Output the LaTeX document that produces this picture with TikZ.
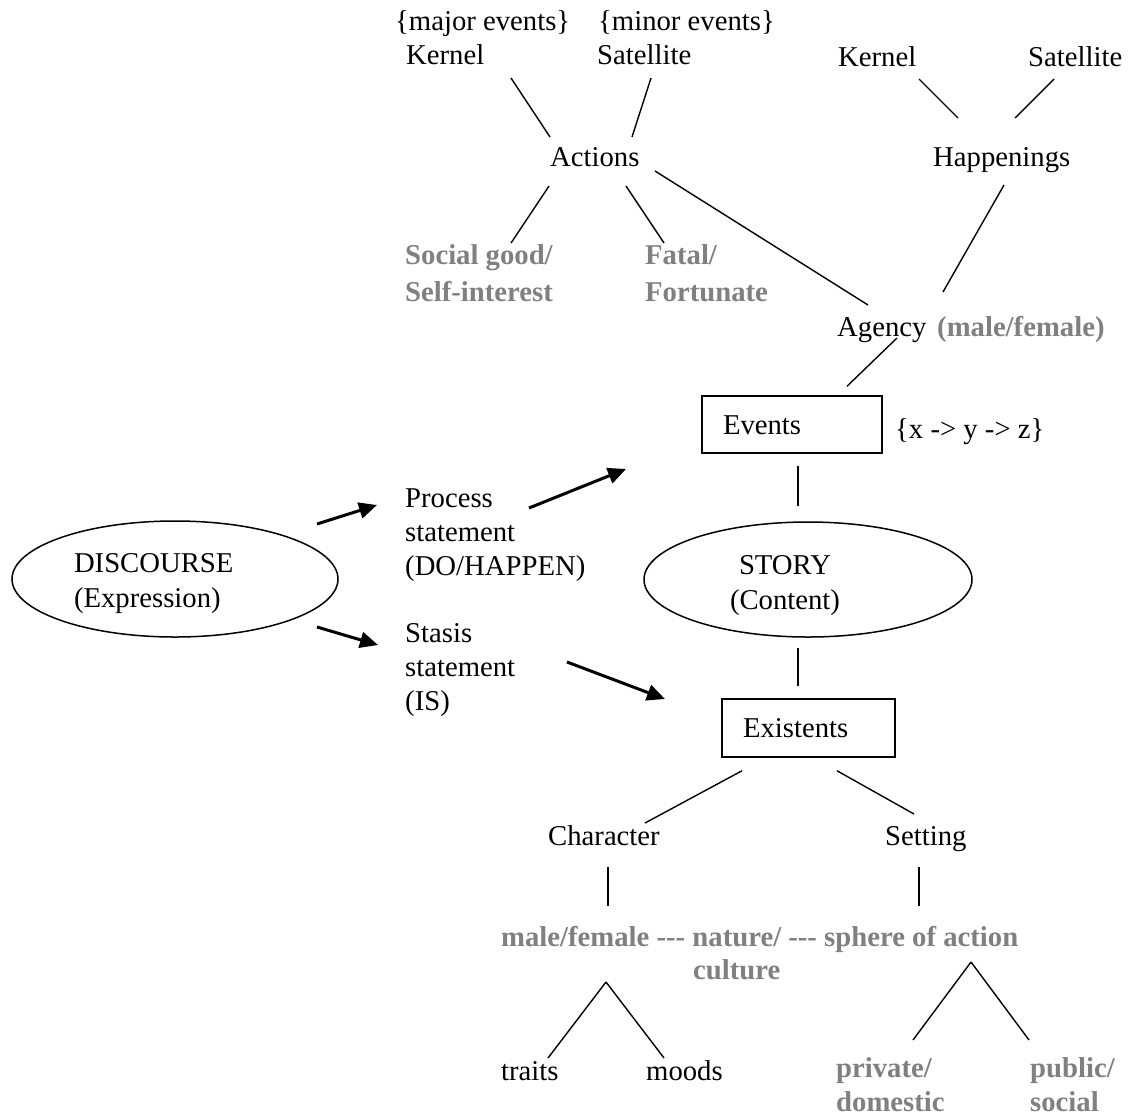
\documentclass[tikz,border=0pt]{standalone}
\usepackage{fontspec}
\setmainfont{Liberation Serif}
\usetikzlibrary{arrows.meta,shapes.geometric}
\definecolor{txtgray}{RGB}{128,128,128}
\begin{document}
\begin{tikzpicture}[x=1pt,y=-1pt,
  lbl/.style={inner sep=0pt, anchor=base west, align=left, font=\fontsize{28.7}{34}\selectfont},
  glbl/.style={lbl, text=txtgray, font=\fontsize{28.7}{37}\selectfont\bfseries},
  conn/.style={line width=1.4pt},
  arr/.style={line width=3pt, -{Triangle[length=18pt,width=16pt]}},
  boxn/.style={draw, line width=1.5pt, rectangle, inner ysep=0pt, inner xsep=21pt,
    align=left, text height=19pt, text depth=0pt, font=\fontsize{28.7}{34}\selectfont},
  elln/.style={draw, ellipse, line width=1.5pt, inner sep=0pt,
    font=\fontsize{28.7}{35}\selectfont}
]
\useasboundingbox (0,0) rectangle (1129,1117);

% top level
\node[lbl] (majorev) at (395,30) {\{major events\}};
\node[lbl] (kernel1) at (406,64) {Kernel};
\node[lbl] (minorev) at (598,30) {\{minor events\}};
\node[lbl] (sat1) at (597,64) {Satellite};
\node[lbl] (kernel2) at (838,66) {Kernel};
\node[lbl] (sat2) at (1028,66) {Satellite};
\node[lbl] (actions) at (550,166) {Actions};
\node[lbl] (happ) at (933,166) {Happenings};
\node[glbl] (social) at (405,301) {Social good/\\Self-interest};
\node[glbl] (fatal) at (645,301) {Fatal/\\Fortunate};
\node[lbl] (agency) at (837,336) {Agency};
\node[glbl] (agencyg) at (937,336) {(male/female)};

% events
\node[boxn, text width=138pt, minimum width=180pt, minimum height=57pt] (events) at (792,424.5) {Events};
\node[lbl] (xyz) at (895,438) {\{x -> y -> z\}};

% discourse side
\node[elln, align=left, text width=202pt, text height=21pt, text depth=35pt,
  minimum width=326pt, minimum height=116pt] (discourse) at (175,579) {DISCOURSE\\(Expression)};
\node[lbl] (process) at (405,575) {Process\\statement\\(DO/HAPPEN)};
\node[lbl] (stasis) at (405,710) {Stasis\\statement\\(IS)};

% story
\node[elln, align=center, text height=59pt, text depth=0pt,
  minimum width=328pt, minimum height=115pt] (story) at (808,579.5)
  {STORY\rule{46pt}{0pt}\\(Content)\rule{46pt}{0pt}};

% existents
\node[boxn, text width=131pt, minimum width=173pt, minimum height=58pt] (existents) at (808.5,728) {Existents};
\node[lbl] (character) at (548,845) {Character};
\node[lbl] (setting) at (885,845) {Setting};
\node[glbl, font=\fontsize{28.7}{33}\selectfont\bfseries] (gline) at (501,979)
  {male/female -{}-{}- nature/ -{}-{}- sphere of action\\\hspace*{192pt}culture};
\node[lbl] (traits) at (501,1080) {traits};
\node[lbl] (moods) at (646,1080) {moods};
\node[glbl, font=\fontsize{28.7}{34}\selectfont\bfseries] (private) at (836,1111) {private/\\domestic};
\node[glbl, font=\fontsize{28.7}{34}\selectfont\bfseries] (public) at (1030,1111) {public/\\social};

% connectors
\draw[conn] ([shift={(105,14)}]kernel1.base west) -- ([shift={(0,-29)}]actions.base west);
\draw[conn] ([shift={(54,14)}]sat1.base west) -- ([shift={(82,-29)}]actions.base west);
\draw[conn] ([shift={(81,13)}]kernel2.base west) -- ([shift={(25,-48)}]happ.base west);
\draw[conn] ([shift={(26,13)}]sat2.base west) -- ([shift={(82,-48)}]happ.base west);
\draw[conn] ([shift={(-1,20)}]actions.base west) -- ([shift={(106,-58)}]social.base west);
\draw[conn] ([shift={(76,20)}]actions.base west) -- ([shift={(19,-58)}]fatal.base west);
\draw[conn] ([shift={(105,5)}]actions.base west) -- ([shift={(31,-31)}]agency.base west);
\draw[conn] ([shift={(71,19)}]happ.base west) -- ([shift={(106,-44)}]agency.base west);
\draw[conn] ([shift={(60,2)}]agency.base west) -- ([shift={(55,-9)}]events.north);
\draw[conn] ([shift={(6,12)}]events.south) -- ([shift={(-10,-15)}]story.north);
\draw[conn] ([shift={(-10,10)}]story.south) -- ([shift={(-10.5,-12)}]existents.north);
\draw[conn] ([shift={(-66.5,13)}]existents.south) -- ([shift={(97,-22)}]character.base west);
\draw[conn] ([shift={(28.5,13)}]existents.south) -- ([shift={(29,-31)}]setting.base west);
\draw[conn] ([shift={(60,22)}]character.base west) -- ([shift={(107,-73)}]gline.base west);
\draw[conn] ([shift={(34,22)}]setting.base west) -- ([shift={(418,-73)}]gline.base west);
\draw[conn] ([shift={(105,3)}]gline.base west) -- ([shift={(47,-22)}]traits.base west);
\draw[conn] ([shift={(105,3)}]gline.base west) -- ([shift={(18,-22)}]moods.base west);
\draw[conn] ([shift={(470,-17)}]gline.base west) -- ([shift={(77,-71)}]private.base west);
\draw[conn] ([shift={(470,-17)}]gline.base west) -- ([shift={(-1,-71)}]public.base west);

% arrows
\draw[arr] ([shift={(142,-55)}]discourse.center) -- ([shift={(-28,-70)}]process.base west);
\draw[arr] ([shift={(142,48)}]discourse.center) -- ([shift={(-27,-65)}]stasis.base west);
\draw[arr] ([shift={(124,-67)}]process.base west) -- ([shift={(-166,44.5)}]events.center);
\draw[arr] ([shift={(162,-48)}]stasis.base west) -- ([shift={(-143.5,-29)}]existents.center);
\end{tikzpicture}
\end{document}
